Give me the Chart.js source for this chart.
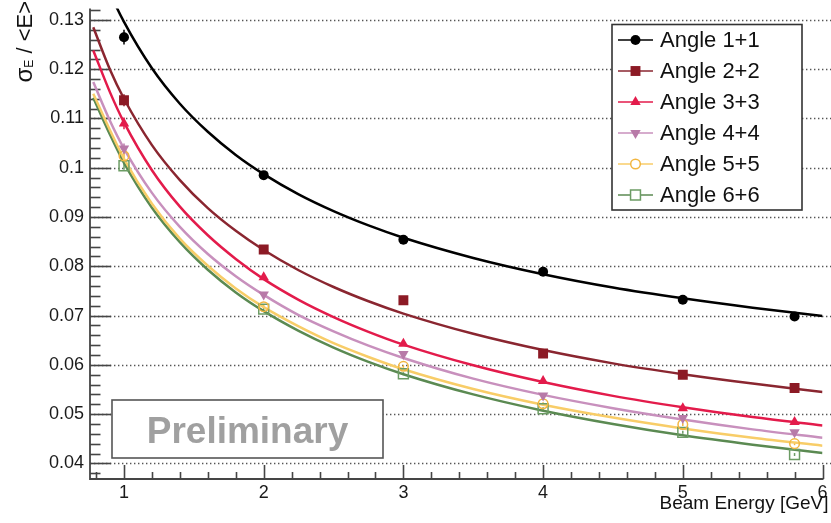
<!DOCTYPE html>
<html>
<head>
<meta charset="utf-8">
<script src="https://cdn.jsdelivr.net/npm/chart.js@4.4.1/dist/chart.umd.min.js"></script>
<style>
  html, body { margin: 0; padding: 0; background: #ffffff; }
  #wrap { width: 831px; height: 523px; }
</style>
</head>
<body>
<div id="wrap"><canvas id="c" width="831" height="523"></canvas></div>
<script>
// Measured energy resolution per angle pairing
const beamEnergy = [1, 2, 3, 4, 5, 5.8];
const seriesNames = ['Angle 1+1', 'Angle 2+2', 'Angle 3+3', 'Angle 4+4', 'Angle 5+5', 'Angle 6+6'];
const angle11 = [0.1265, 0.0985, 0.0854, 0.0789, 0.0732, 0.0698];
const angle22 = [0.1137, 0.0834, 0.0731, 0.0623, 0.0580, 0.0553];
const angle33 = [0.1090, 0.0778, 0.0643, 0.0567, 0.0512, 0.0484];
const angle44 = [0.1039, 0.0743, 0.0622, 0.0538, 0.0492, 0.0463];
const angle55 = [0.1024, 0.0718, 0.0597, 0.0521, 0.0479, 0.0440];
const angle66 = [0.1004, 0.0713, 0.0582, 0.0511, 0.0463, 0.0418];
const err11 = [0.0015, 0.0004, 0.0003, 0.0003, 0.0003, 0.0003];
const err22 = [0.0012, 0.0004, 0.0003, 0.0003, 0.0003, 0.0003];
const err33 = [0.0012, 0.0004, 0.0003, 0.0003, 0.0003, 0.0003];
const err44 = [0.0010, 0.0004, 0.0003, 0.0003, 0.0003, 0.0003];
const err55 = [0.0010, 0.0004, 0.0003, 0.0003, 0.0003, 0.0003];
const err66 = [0.0008, 0.0004, 0.0003, 0.0003, 0.0003, 0.0003];

// Fitted resolution curves, sampled along the beam energy
const fitEnergy = [0.78, 0.9, 1, 1.2, 1.4, 1.6, 1.8, 2, 2.25, 2.5, 2.75, 3, 3.5, 4, 4.5, 5, 5.5, 6];
const fit11 = [0.1442, 0.1355, 0.1296, 0.1202, 0.1130, 0.1073, 0.1026, 0.0987, 0.0946, 0.0912, 0.0883, 0.0858, 0.0817, 0.0784, 0.0757, 0.0735, 0.0716, 0.0699];
const fit22 = [0.1285, 0.1199, 0.1140, 0.1046, 0.0975, 0.0918, 0.0872, 0.0833, 0.0792, 0.0758, 0.0729, 0.0704, 0.0663, 0.0630, 0.0603, 0.0581, 0.0562, 0.0545];
const fit33 = [0.1238, 0.1153, 0.1092, 0.0995, 0.0921, 0.0863, 0.0815, 0.0774, 0.0732, 0.0697, 0.0667, 0.0641, 0.0599, 0.0565, 0.0537, 0.0514, 0.0494, 0.0477];
const fit44 = [0.1174, 0.1095, 0.1039, 0.0949, 0.0880, 0.0825, 0.0780, 0.0742, 0.0701, 0.0668, 0.0639, 0.0614, 0.0572, 0.0539, 0.0512, 0.0489, 0.0469, 0.0452];
const fit55 = [0.1150, 0.1076, 0.1018, 0.0927, 0.0856, 0.0801, 0.0755, 0.0717, 0.0678, 0.0644, 0.0616, 0.0591, 0.0551, 0.0519, 0.0493, 0.0471, 0.0452, 0.0436];
const fit66 = [0.1142, 0.1067, 0.1010, 0.0919, 0.0849, 0.0793, 0.0747, 0.0709, 0.0669, 0.0635, 0.0606, 0.0581, 0.0540, 0.0507, 0.0480, 0.0457, 0.0438, 0.0421];

// Axis ticks
const xTickValues = [1, 2, 3, 4, 5, 6];
const xTickLabels = ['1', '2', '3', '4', '5', '6'];
const yTickValues = [0.04, 0.05, 0.06, 0.07, 0.08, 0.09, 0.10, 0.11, 0.12, 0.13];
const yTickLabels = ['0.04', '0.05', '0.06', '0.07', '0.08', '0.09', '0.1', '0.11', '0.12', '0.13'];
const xMin = 0.7566, xMax = 6.0;
const yMin = 0.03683, yMax = 0.132322;

const FONT = '"Liberation Sans", Arial, Helvetica, sans-serif';

const styles = [
  { marker: '#000000', line: '#000000', pointStyle: 'circle', radius: 5, rotation: 0, open: false },
  { marker: '#8c1a25', line: '#8a2630', pointStyle: 'rect', radius: 7, rotation: 0, open: false },
  { marker: '#e31b4b', line: '#e31b4b', pointStyle: 'triangle', radius: 6, rotation: 0, open: false },
  { marker: '#b87aa8', line: '#c890bd', pointStyle: 'triangle', radius: 6, rotation: 180, open: false },
  { marker: '#f2b640', line: '#f8cd68', pointStyle: 'circle', radius: 4.8, rotation: 0, open: true },
  { marker: '#6c9c64', line: '#5b8a52', pointStyle: 'rect', radius: 7, rotation: 0, open: true }
];
const measured = [angle11, angle22, angle33, angle44, angle55, angle66];
const errors = [err11, err22, err33, err44, err55, err66];
const fits = [fit11, fit22, fit33, fit44, fit55, fit66];

const datasets = [];
measured.forEach((vals, i) => {
  const s = styles[i];
  datasets.push({
    label: seriesNames[i],
    data: beamEnergy.map((e, j) => ({ x: e, y: vals[j] })),
    errors: errors[i],
    showLine: false,
    pointStyle: s.pointStyle,
    pointRadius: s.radius,
    pointHoverRadius: s.radius,
    pointRotation: s.rotation,
    pointBackgroundColor: s.open ? 'rgba(0,0,0,0)' : s.marker,
    pointBorderColor: s.marker,
    pointBorderWidth: s.open ? 1.5 : 0,
    order: 1
  });
});
fits.forEach((vals, i) => {
  const s = styles[i];
  datasets.push({
    label: seriesNames[i] + ' fit',
    data: fitEnergy.map((e, j) => ({ x: e, y: vals[j] })),
    showLine: true,
    cubicInterpolationMode: 'monotone',
    borderColor: s.line,
    borderWidth: 2.5,
    pointRadius: 0,
    pointHoverRadius: 0,
    order: 2
  });
});

// Axis frame: dotted grid, axis lines and inward ROOT-style ticks
const framePlugin = {
  id: 'frame',
  beforeDatasetsDraw(chart) {
    const { ctx, chartArea: a, scales: { x, y } } = chart;
    ctx.save();
    ctx.strokeStyle = '#555555';
    ctx.lineWidth = 1.4;
    ctx.setLineDash([1.4, 2.6]);
    yTickValues.forEach(v => {
      const py = Math.round(y.getPixelForValue(v)) + 0.5;
      ctx.beginPath();
      ctx.moveTo(a.left, py);
      ctx.lineTo(chart.width, py);
      ctx.stroke();
    });
    ctx.setLineDash([]);
    ctx.strokeStyle = '#454545';
    ctx.lineWidth = 1.6;
    // y ticks every 0.002, majors every 0.01
    for (let k = 18; k <= 66; k++) {
      const v = k * 0.002;
      if (v < yMin || v > yMax) continue;
      const py = Math.round(y.getPixelForValue(v)) + 0.5;
      const len = (k % 5 === 0) ? 21 : 10.5;
      ctx.beginPath();
      ctx.moveTo(a.left, py);
      ctx.lineTo(a.left + len, py);
      ctx.stroke();
    }
    // x ticks every 0.2, majors every 1
    for (let k = 4; k <= 30; k++) {
      const v = k * 0.2;
      if (v < xMin || v > xMax + 1e-9) continue;
      const px = Math.round(x.getPixelForValue(v)) + 0.5;
      const len = (k % 5 === 0) ? 14 : 7;
      ctx.beginPath();
      ctx.moveTo(px, a.bottom);
      ctx.lineTo(px, a.bottom - len);
      ctx.stroke();
    }
    ctx.lineWidth = 1.8;
    ctx.beginPath();
    ctx.moveTo(a.left, a.top);
    ctx.lineTo(a.left, a.bottom);
    ctx.lineTo(a.right + 1, a.bottom);
    ctx.stroke();
    ctx.restore();
  }
};

// Vertical error bars under the markers
const errorBarPlugin = {
  id: 'errorBars',
  beforeDatasetsDraw(chart) {
    const { ctx, scales: { x, y } } = chart;
    ctx.save();
    ctx.lineWidth = 1.5;
    chart.data.datasets.forEach((ds, i) => {
      if (!ds.errors) return;
      ctx.strokeStyle = styles[i].marker;
      ds.data.forEach((p, j) => {
        const px = x.getPixelForValue(p.x);
        ctx.beginPath();
        ctx.moveTo(px, y.getPixelForValue(p.y - ds.errors[j]));
        ctx.lineTo(px, y.getPixelForValue(p.y + ds.errors[j]));
        ctx.stroke();
      });
    });
    ctx.restore();
  }
};

// Legend box, "Preliminary" stamp and axis titles
const overlayPlugin = {
  id: 'overlay',
  afterDatasetsDraw(chart) {
    const { ctx } = chart;
    ctx.save();
    // Preliminary stamp
    ctx.fillStyle = '#ffffff';
    ctx.fillRect(112, 400, 271, 58);
    ctx.strokeStyle = '#555555';
    ctx.lineWidth = 1.6;
    ctx.strokeRect(112, 400, 271, 58);
    ctx.fillStyle = '#a0a0a0';
    ctx.font = 'bold 37px ' + FONT;
    ctx.textAlign = 'center';
    ctx.textBaseline = 'alphabetic';
    ctx.fillText('Preliminary', 247.5, 443);

    // Legend
    const lx = 612, ly = 24.5, lw = 190, lh = 185.5;
    ctx.fillStyle = '#ffffff';
    ctx.fillRect(lx, ly, lw, lh);
    ctx.strokeStyle = '#333333';
    ctx.lineWidth = 1.6;
    ctx.strokeRect(lx, ly, lw, lh);
    ctx.font = '22px ' + FONT;
    ctx.textAlign = 'left';
    ctx.textBaseline = 'middle';
    seriesNames.forEach((name, i) => {
      const s = styles[i];
      const cy = 40 + i * 31;
      ctx.strokeStyle = s.line;
      ctx.lineWidth = 1.5;
      ctx.beginPath();
      ctx.moveTo(618, cy);
      ctx.lineTo(653, cy);
      ctx.stroke();
      ctx.fillStyle = s.open ? '#ffffff' : s.marker;
      ctx.strokeStyle = s.marker;
      ctx.lineWidth = 1.5;
      Chart.helpers.drawPoint(ctx, {
        pointStyle: s.pointStyle, radius: s.radius, rotation: s.rotation,
        borderWidth: s.open ? 1.5 : 0
      }, 635.5, cy);
      ctx.fillStyle = '#111111';
      ctx.fillText(name, 660, cy + 1);
    });
    ctx.restore();
  },
  afterDraw(chart) {
    const { ctx } = chart;
    ctx.save();
    ctx.fillStyle = '#111111';
    // x-axis title
    ctx.font = '19px ' + FONT;
    ctx.textAlign = 'right';
    ctx.textBaseline = 'alphabetic';
    ctx.fillText('Beam Energy [GeV]', 828.5, 508.5);

    // y-axis title: sigma_E / <E>, reading upward
    const fMain = '22px ' + FONT, fSig = '24px ' + FONT, fSub = '12px ' + FONT;
    ctx.font = fSig; const wSig = ctx.measureText('σ').width;
    ctx.font = fSub; const wSub = ctx.measureText('E').width;
    ctx.font = fMain; const wRest = ctx.measureText(' / <E>').width;
    const total = wSig + wSub + wRest;
    ctx.translate(31.7, 1 + total);
    ctx.rotate(-Math.PI / 2);
    ctx.textAlign = 'left';
    ctx.font = fSig; ctx.fillText('σ', 0, 0);
    ctx.font = fSub; ctx.fillText('E', wSig, 1);
    ctx.font = fMain; ctx.fillText(' / <E>', wSig + wSub, 0);
    ctx.restore();
  }
};

new Chart(document.getElementById('c').getContext('2d'), {
  type: 'scatter',
  data: { datasets },
  options: {
    responsive: false,
    animation: false,
    devicePixelRatio: 1,
    layout: { padding: { top: 6, right: 8.3, left: 0, bottom: 0 } },
    plugins: { legend: { display: false }, tooltip: { enabled: false } },
    scales: {
      x: {
        type: 'linear', min: xMin, max: xMax,
        grid: { display: false, drawTicks: false },
        border: { display: false },
        afterBuildTicks: s => { s.ticks = xTickValues.map(v => ({ value: v })); },
        afterFit: s => { s.height = 44; s.paddingLeft = 0; s.paddingRight = 0; },
        ticks: {
          padding: 3, maxRotation: 0, autoSkip: false, color: '#1a1a1a',
          font: { family: FONT, size: 18 },
          callback: (v, i) => xTickLabels[i]
        }
      },
      y: {
        type: 'linear', min: yMin, max: yMax,
        grid: { display: false, drawTicks: false },
        border: { display: false },
        afterBuildTicks: s => { s.ticks = yTickValues.map(v => ({ value: v })); },
        afterFit: s => { s.width = 90; s.paddingTop = 0; s.paddingBottom = 0; },
        ticks: {
          padding: 6, autoSkip: false, color: '#1a1a1a',
          font: { family: FONT, size: 18 },
          callback: (v, i) => yTickLabels[i]
        }
      }
    }
  },
  plugins: [framePlugin, errorBarPlugin, overlayPlugin]
});
</script>
</body>
</html>
